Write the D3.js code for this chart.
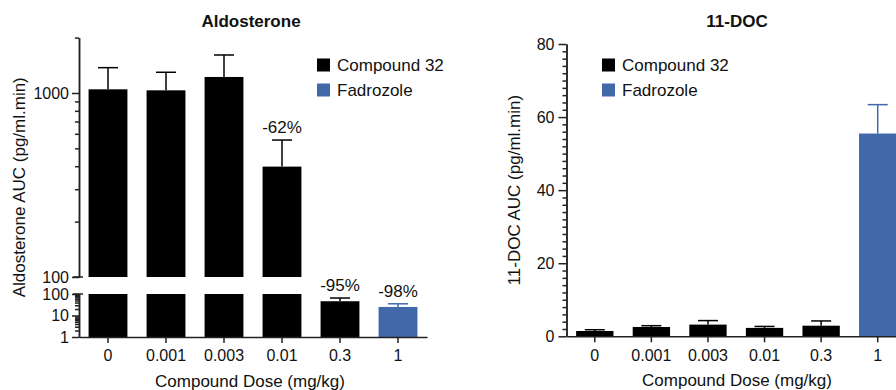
<!DOCTYPE html>
<html>
<head>
<meta charset="utf-8">
<script src="https://cdn.jsdelivr.net/npm/d3@7"></script>
<style>
  body { margin: 0; background: #fff; }
  text { font-family: "Liberation Sans", Arial, sans-serif; fill: #111; }
  .axis path, .axis line { stroke: #222; stroke-width: 1.5; }
  .axis text { font-size: 16px; fill: #111; }
</style>
</head>
<body>
<div id="chart"></div>
<script>
var svgWidth = 896;
var svgHeight = 390;

// Data
var doses = ["0", "0.001", "0.003", "0.01", "0.3", "1"];
var treatments = ["Compound 32", "Compound 32", "Compound 32", "Compound 32", "Compound 32", "Fadrozole"];
var aldoMean = [1047, 1034, 1222, 398, 46, 25];
var aldoSem = [326, 262, 387, 157, 19, 10];
var aldoPct = ["", "", "", "-62%", "-95%", "-98%"];
var docMean = [1.45, 2.55, 3.2, 2.3, 2.9, 55.5];
var docSem = [0.35, 0.35, 1.1, 0.4, 1.3, 7.9];
var legendItems = ["Compound 32", "Fadrozole"];

var color = d3.scaleOrdinal().domain(legendItems).range(["#000000", "#4169a9"]);

var svg = d3.select("#chart")
  .append("svg")
  .attr("width", svgWidth)
  .attr("height", svgHeight);

// ---------- Left panel: Aldosterone (broken log axis) ----------
var left = { x0: 79, x1: 427, top: 37.6, upBottom: 277, lowTop: 294, bottom: 337 };

var xLeft = d3.scaleBand().domain(doses).range([left.x0, left.x1])
  .paddingInner(0.33).paddingOuter(0.165);
var yUpper = d3.scaleLog().domain([100, 2000]).range([left.upBottom, left.top]);
var yLower = d3.scaleLog().domain([1, 100]).range([left.bottom, left.lowTop]);

var gL = svg.append("g");

aldoMean.forEach(function(v, i) {
  var x = xLeft(doses[i]);
  var c = color(treatments[i]);
  if (v > 100) {
    gL.append("rect").attr("x", x).attr("width", xLeft.bandwidth())
      .attr("y", yLower(100)).attr("height", yLower(1) - yLower(100)).attr("fill", c);
    gL.append("rect").attr("x", x).attr("width", xLeft.bandwidth())
      .attr("y", yUpper(v)).attr("height", yUpper(100) - yUpper(v)).attr("fill", c);
  } else {
    gL.append("rect").attr("x", x).attr("width", xLeft.bandwidth())
      .attr("y", yLower(v)).attr("height", yLower(1) - yLower(v)).attr("fill", c);
  }
  var top = v + aldoSem[i];
  var ys = top > 100 ? yUpper : yLower;
  var cx = x + xLeft.bandwidth() / 2;
  gL.append("line").attr("x1", cx).attr("x2", cx).attr("y1", ys(v)).attr("y2", ys(top))
    .attr("stroke", c).attr("stroke-width", 1.5);
  gL.append("line").attr("x1", cx - 10).attr("x2", cx + 10).attr("y1", ys(top)).attr("y2", ys(top))
    .attr("stroke", c).attr("stroke-width", 1.5);
  if (aldoPct[i]) {
    gL.append("text").attr("x", cx).attr("y", ys(top) - 7)
      .attr("text-anchor", "middle").style("font-size", "17px").text(aldoPct[i]);
  }
});

// upper y axis
gL.append("g").attr("class", "axis").attr("transform", `translate(${left.x0},0)`)
  .call(d3.axisLeft(yUpper).tickValues([100, 1000]).tickSize(7).tickSizeOuter(0).tickPadding(3)
    .tickFormat(d3.format("d")));
gL.append("g").attr("class", "axis").attr("transform", `translate(${left.x0},0)`)
  .call(d3.axisLeft(yUpper).tickValues([200, 300, 400, 500, 600, 700, 800, 900, 2000]).tickSize(4)
    .tickSizeOuter(0).tickFormat(""));

// lower y axis
var lowMinor = [2, 3, 4, 5, 6, 7, 8, 9, 20, 30, 40, 50, 60, 70, 80, 90];
gL.append("g").attr("class", "axis").attr("transform", `translate(${left.x0},0)`)
  .call(d3.axisLeft(yLower).tickValues([1, 10, 100]).tickSize(7).tickSizeOuter(0).tickPadding(3)
    .tickFormat(d3.format("d")));
gL.append("g").attr("class", "axis").attr("transform", `translate(${left.x0},0)`)
  .call(d3.axisLeft(yLower).tickValues(lowMinor).tickSize(4).tickSizeOuter(0).tickFormat(""));

// break caps
[yUpper(100), yLower(100)].forEach(function(y) {
  gL.append("line").attr("x1", left.x0 - 6).attr("x2", left.x0 + 4).attr("y1", y).attr("y2", y)
    .attr("stroke", "#222").attr("stroke-width", 1.5);
});

// x axis
var xAxisL = gL.append("g").attr("class", "axis").attr("transform", `translate(0,${left.bottom})`)
  .call(d3.axisBottom(xLeft).tickSize(6).tickSizeOuter(0).tickPadding(7));

gL.append("text").attr("x", 251).attr("y", 27).attr("text-anchor", "middle")
  .style("font-size", "17px").style("font-weight", "bold").text("Aldosterone");

gL.append("text").attr("transform", "rotate(-90)")
  .attr("x", -(left.top + left.bottom) / 2).attr("y", 25)
  .attr("text-anchor", "middle").style("font-size", "17px")
  .text("Aldosterone AUC (pg/ml.min)");

gL.append("text").attr("x", 250).attr("y", 387).attr("text-anchor", "middle")
  .style("font-size", "17px").text("Compound Dose (mg/kg)");

// ---------- Right panel: 11-DOC ----------
var right = { x0: 566.5, x1: 906, top: 44, bottom: 336.3 };

var xRight = d3.scaleBand().domain(doses).range([right.x0, right.x1])
  .paddingInner(0.34).paddingOuter(0.17);
var yDoc = d3.scaleLinear().domain([0, 80]).range([right.bottom, right.top]);

var gR = svg.append("g");

gR.selectAll("rect.bar")
  .data(docMean)
  .enter()
  .append("rect")
  .attr("class", "bar")
  .attr("x", (d, i) => xRight(doses[i]))
  .attr("width", xRight.bandwidth())
  .attr("y", d => yDoc(d))
  .attr("height", d => yDoc(0) - yDoc(d))
  .attr("fill", (d, i) => color(treatments[i]));

docMean.forEach(function(v, i) {
  var cx = xRight(doses[i]) + xRight.bandwidth() / 2;
  var c = color(treatments[i]);
  var top = v + docSem[i];
  gR.append("line").attr("x1", cx).attr("x2", cx).attr("y1", yDoc(v)).attr("y2", yDoc(top))
    .attr("stroke", c).attr("stroke-width", 1.5);
  gR.append("line").attr("x1", cx - 10).attr("x2", cx + 10).attr("y1", yDoc(top)).attr("y2", yDoc(top))
    .attr("stroke", c).attr("stroke-width", 1.5);
});

gR.append("g").attr("class", "axis").attr("transform", `translate(${right.x0},0)`)
  .call(d3.axisLeft(yDoc).tickValues(d3.range(2, 80, 2).filter(d => d % 20 !== 0))
    .tickSize(4).tickSizeOuter(0).tickFormat(""));
gR.append("g").attr("class", "axis").attr("transform", `translate(${right.x0},0)`)
  .call(d3.axisLeft(yDoc).tickValues([0, 20, 40, 60, 80]).tickSize(8).tickSizeOuter(0).tickPadding(4));

gR.append("g").attr("class", "axis").attr("transform", `translate(0,${right.bottom})`)
  .call(d3.axisBottom(xRight).tickSize(6).tickSizeOuter(0).tickPadding(7));

gR.append("text").attr("x", 737).attr("y", 27).attr("text-anchor", "middle")
  .style("font-size", "17px").style("font-weight", "bold").text("11-DOC");

gR.append("text").attr("transform", "rotate(-90)")
  .attr("x", -(right.top + right.bottom) / 2).attr("y", 520)
  .attr("text-anchor", "middle").style("font-size", "17px")
  .text("11-DOC AUC (pg/ml.min)");

gR.append("text").attr("x", 737).attr("y", 386).attr("text-anchor", "middle")
  .style("font-size", "17px").text("Compound Dose (mg/kg)");

// ---------- Legends ----------
[317, 602].forEach(function(lx) {
  var lg = svg.append("g").attr("transform", `translate(${lx},0)`);
  legendItems.forEach(function(name, j) {
    lg.append("rect").attr("x", 0).attr("y", 58.5 + j * 25).attr("width", 13).attr("height", 13)
      .attr("fill", color(name));
    lg.append("text").attr("x", 20).attr("y", 71 + j * 25).style("font-size", "17px").text(name);
  });
});
</script>
</body>
</html>
